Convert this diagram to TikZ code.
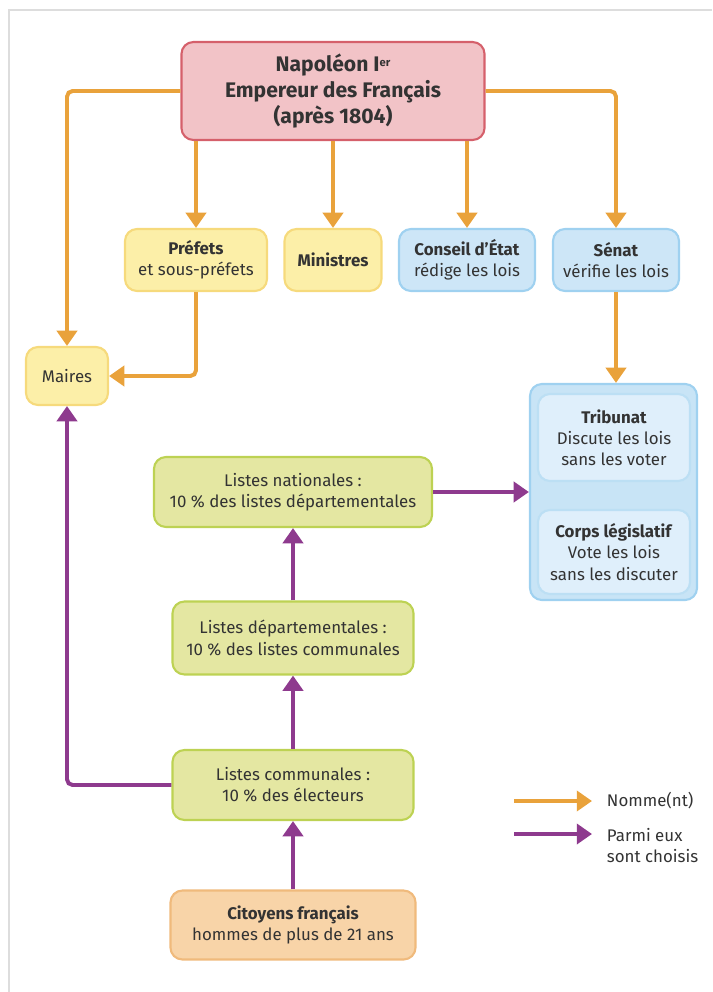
\documentclass[tikz,border=0pt]{standalone}
\usepackage{fontspec}
\setmainfont{Fira Sans}
\usetikzlibrary{arrows.meta}
\definecolor{orangeflec}{HTML}{E9A23B}
\definecolor{violetflec}{HTML}{8E3A8E}
\definecolor{rosefond}{HTML}{F2C3C7}
\definecolor{rosebord}{HTML}{D5606B}
\definecolor{jaunefond}{HTML}{FCEFA8}
\definecolor{jaunebord}{HTML}{F6DA7C}
\definecolor{bleufond}{HTML}{CDE6F7}
\definecolor{bleubord}{HTML}{9FD1F0}
\definecolor{bleuclair}{HTML}{DFEFFB}
\definecolor{vertfond}{HTML}{E4E7A2}
\definecolor{vertbord}{HTML}{BDD253}
\definecolor{orfond}{HTML}{F8D4A8}
\definecolor{orbord}{HTML}{F0BA7C}
\definecolor{cadre}{HTML}{DDDDDD}

\begin{document}
\begin{tikzpicture}[x=0.025cm, y=-0.025cm,
		boite/.style={draw, line width=1.5pt, rounded corners=0.3cm, align=center, inner sep=2pt, text=black!80, font=\fontsize{12}{15}\selectfont},
		jaune/.style={boite, fill=jaunefond, draw=jaunebord},
		bleu/.style={boite, fill=bleufond, draw=bleubord},
		vert/.style={boite, fill=vertfond, draw=vertbord},
		nomme/.style={orangeflec, line width=2.8pt, rounded corners=4pt, -{Triangle[length=0.38cm,width=0.5cm]}},
		choisi/.style={violetflec, line width=2.8pt, rounded corners=4pt, -{Triangle[length=0.38cm,width=0.5cm]}}]
	\useasboundingbox (0,0) rectangle (712,992);
	\draw[cadre, line width=1.2pt] (9,992) -- (9,10) -- (712,10);
	% sommet
	\node[boite, fill=rosefond, draw=rosebord, minimum width=7.575cm, minimum height=2.45cm, font=\fontsize{15}{18.5}\selectfont\bfseries] (napo) at (333,91) {Napoléon I{\fontsize{8}{8}\selectfont\raisebox{0.9ex}{er}}\\Empereur des Français\\(après 1804)};
	\node[jaune, minimum width=3.55cm, minimum height=1.55cm] (prefets) at (196,260) {\textbf{Préfets}\\et sous-préfets};
	\node[jaune, minimum width=2.425cm, minimum height=1.55cm] (ministres) at (333,260) {\textbf{Ministres}};
	\node[bleu, minimum width=3.4cm, minimum height=1.55cm] (conseil) at (467,260) {\textbf{Conseil d’État}\\rédige les lois};
	\node[bleu, minimum width=3.15cm, minimum height=1.55cm] (senat) at (616,260) {\textbf{Sénat}\\vérifie les lois};
	\node[jaune, minimum width=2.05cm, minimum height=1.45cm] (maires) at (67,376) {Maires};
	% assemblees
	\node[draw=bleubord, fill=bleufond!90!bleubord, line width=1.5pt, rounded corners=0.3cm, minimum width=4.175cm, minimum height=5.4cm] (assemblees) at (613.5,492) {};
	\node[boite, fill=bleuclair, draw=bleubord!70, minimum width=3.8cm, minimum height=2.175cm] (tribunat) at (614,437.5) {\textbf{Tribunat}\\Discute les lois\\sans les voter};
	\node[boite, fill=bleuclair, draw=bleubord!70, minimum width=3.8cm, minimum height=2.1cm] (corps) at (614,552) {\textbf{Corps législatif}\\Vote les lois\\sans les discuter};
	% listes
	\node[vert, minimum width=6.95cm, minimum height=1.75cm] (nationales) at (293,492) {Listes nationales :\\10 \% des listes départementales};
	\node[vert, minimum width=6.025cm, minimum height=1.825cm] (departementales) at (293,638) {Listes départementales :\\10 \% des listes communales};
	\node[vert, minimum width=6.025cm, minimum height=1.75cm] (communales) at (293,785) {Listes communales :\\10 \% des électeurs};
	\node[boite, fill=orfond, draw=orbord, minimum width=6.125cm, minimum height=1.725cm] (citoyens) at (293,925) {\textbf{Citoyens français}\\hommes de plus de 21 ans};
	% fleches oranges
	\draw[nomme] (napo.west) -| (maires.north);
	\draw[nomme] (napo.east) -| (senat.north);
	\draw[nomme] (prefets.north |- napo.south) -- (prefets.north);
	\draw[nomme] (ministres.north |- napo.south) -- (ministres.north);
	\draw[nomme] (conseil.north |- napo.south) -- (conseil.north);
	\draw[nomme] (prefets.south) |- (maires.east);
	\draw[nomme] (senat.south) -- (senat.south |- assemblees.north);
	% fleches violettes
	\draw[choisi] (citoyens) -- (communales);
	\draw[choisi] (communales) -- (departementales);
	\draw[choisi] (departementales) -- (nationales);
	\draw[choisi] (nationales.east) -- (nationales.east -| assemblees.west);
	\draw[choisi] (communales.west) -| (maires.south);
	% legende
	\coordinate (l1a) at (514,801);
	\coordinate (l1b) at (592,801);
	\coordinate (l2a) at (514,834);
	\coordinate (l2b) at (592,834);
	\draw[nomme] (l1a) -- (l1b);
	\draw[choisi] (l2a) -- (l2b);
	\node[anchor=west, text=black!80, font=\fontsize{12}{15}\selectfont] (tnomme) at (602,801) {Nomme(nt)};
	\node[anchor=north west, align=left, text=black!80, font=\fontsize{12}{15}\selectfont] (tchoisi) at (602,823) {Parmi eux\\sont choisis};
\end{tikzpicture}
\end{document}
